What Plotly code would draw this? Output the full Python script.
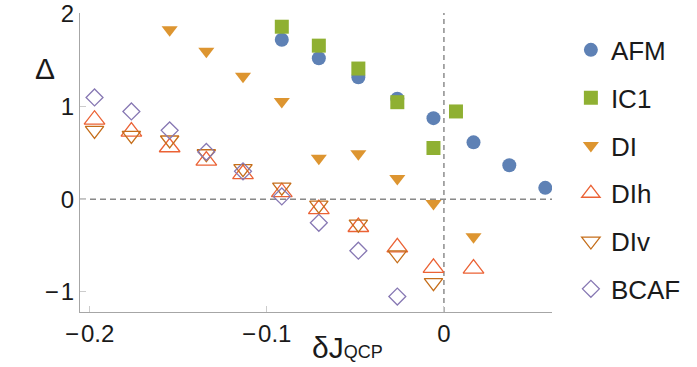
import plotly.graph_objects as go

# ---- data ----
afm_x = [-0.0915, -0.0706, -0.0483, -0.0263, -0.0059, 0.0167, 0.0369, 0.0572]
afm_y = [1.72, 1.52, 1.315, 1.083, 0.874, 0.613, 0.366, 0.122]

ic1_x = [-0.0915, -0.0706, -0.0483, -0.0263, -0.0059, 0.0068]
ic1_y = [1.86, 1.656, 1.409, 1.046, 0.552, 0.946]

di_x = [-0.1548, -0.1341, -0.1134, -0.0915, -0.0706, -0.0483, -0.0263, -0.0059, 0.0167]
di_y = [1.828, 1.595, 1.326, 1.054, 0.44, 0.491, 0.222, -0.047, -0.406]

dih_x = [-0.1972, -0.1764, -0.1548, -0.1341, -0.1134, -0.0915, -0.0706, -0.0483, -0.0263, -0.0059, 0.0167]
dih_y = [0.857, 0.728, 0.56, 0.415, 0.27, 0.075, -0.107, -0.30, -0.52, -0.74, -0.749]

div_x = [-0.1972, -0.1764, -0.1548, -0.1341, -0.1134, -0.0915, -0.0706, -0.0483, -0.0263, -0.0059]
div_y = [0.742, 0.688, 0.638, 0.49, 0.33, 0.13, -0.065, -0.27, -0.60, -0.90]

bcaf_x = [-0.1972, -0.1764, -0.1548, -0.1341, -0.1134, -0.0915, -0.0706, -0.0483, -0.0263]
bcaf_y = [1.097, 0.946, 0.742, 0.51, 0.30, 0.03, -0.255, -0.556, -1.05]

x_tickvals = [-0.2, -0.1, 0]
x_ticktext = ["\u2212\u200a0.2", "\u2212\u200a0.1", "0"]
y_tickvals = [-1, 0, 1, 2]
y_ticktext = ["\u2212\u200a1", "0", "1", "2"]

FONT = "Liberation Sans, Arial, sans-serif"

series = [
    ("AFM", afm_x, afm_y, "circle", "#5E81B5", 14),
    ("IC1", ic1_x, ic1_y, "square", "#8FB032", 14),
    ("DI", di_x, di_y, "triangle-down", "#DD9530", 14),
    ("DIh", dih_x, dih_y, "triangle-up-open", "#EB6235", 18),
    ("DIv", div_x, div_y, "triangle-down-open", "#C56E1A", 16),
    ("BCAF", bcaf_x, bcaf_y, "diamond-open", "#8778B3", 13),
]

fig = go.Figure()
for i, (name, xs, ys, sym, col, sz) in enumerate(series):
    fig.add_trace(go.Scatter(
        x=xs, y=ys, mode="markers", name=name, legendgroup=str(i),
        marker=dict(symbol=sym, color=col, size=sz,
                    line=dict(width=1.3 if "open" in sym else 0, color=col)),
    ))

fig.add_shape(type="line", xref="paper", yref="y", x0=0, x1=1, y0=0, y1=0,
              line=dict(color="#4d4d4d", width=1, dash="6px,4px"), layer="below")
fig.add_shape(type="line", xref="x", yref="paper", x0=0, x1=0, y0=0, y1=1,
              line=dict(color="#8c8c8c", width=1.5, dash="5px,4px"), layer="below")

fig.add_annotation(text="\u0394", xref="paper", yref="paper", x=-0.074, y=0.816,
                   showarrow=False, xanchor="center", yanchor="middle",
                   font=dict(family=FONT, size=30, color="#1a1a1a"))
fig.add_annotation(text="\u03b4J<span style='font-size:18px'>QCP</span>",
                   xref="paper", yref="paper", x=0.566, y=-0.118,
                   showarrow=False, xanchor="center", yanchor="middle",
                   font=dict(family=FONT, size=30, color="#1a1a1a"))

axis_common = dict(showgrid=False, zeroline=False, showline=True, linecolor="#a6a6a6",
                   linewidth=1, ticks="inside", ticklen=6, tickcolor="#cccccc",
                   ticklabeloverflow="allow", automargin=False,
                   tickfont=dict(family=FONT, size=24, color="#1a1a1a"))

fig.update_layout(
    width=697, height=367,
    margin=dict(l=80, r=145, t=13, b=55, autoexpand=False),
    paper_bgcolor="white", plot_bgcolor="white",
    xaxis=dict(range=[-0.2054, 0.061], tickvals=x_tickvals, ticktext=x_ticktext, **axis_common),
    yaxis=dict(range=[-1.217, 2.008], tickvals=y_tickvals, ticktext=y_ticktext, **axis_common),
    showlegend=True,
    legend=dict(x=1.04, xanchor="left", y=0.955, yanchor="top",
                font=dict(family=FONT, size=26, color="#1a1a1a"),
                tracegroupgap=11, bgcolor="rgba(0,0,0,0)"),
)

fig.write_html("out.html")
